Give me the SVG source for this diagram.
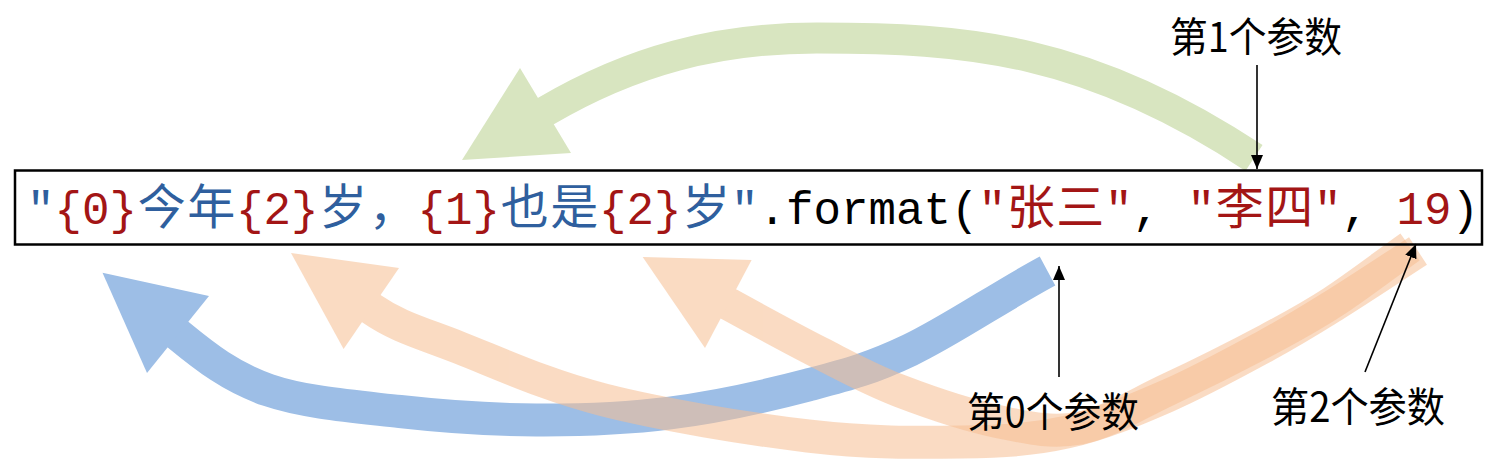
<svg xmlns="http://www.w3.org/2000/svg" width="1512" height="460" viewBox="0 0 1512 460">
<defs>
<style>
.band{fill:none;stroke-linecap:butt;stroke-linejoin:round}
.mono{font-family:"Liberation Mono","DejaVu Sans Mono",monospace;font-size:45.8px}
.cjk{font-family:"Noto Sans CJK SC","Noto Sans",sans-serif;font-size:48px}
.lbl{font-family:"Noto Sans CJK SC","Noto Sans",sans-serif;font-size:41px;fill:#000}
.b{fill:#2F5F9E}.r{fill:#A31515}.k{fill:#000}
.ptr{fill:none;stroke:#000;stroke-width:1.6}
</style>
<marker id="ah" viewBox="0 0 14 12" refX="14" refY="6" markerWidth="14" markerHeight="12" markerUnits="userSpaceOnUse" orient="auto">
<path d="M0,0 L14,6 L0,12 z" fill="#000"/>
</marker>
</defs>
<rect width="1512" height="460" fill="#fff"/>
<g id="connectors">
<g id="arrow-green">
<path class="band" stroke="#D8E5C0" stroke-width="31" d="M1254,158 C1088,48 967,38 817,38 C717,38 632,60.6 546,111 l-3.5,2"/>
<polygon fill="#D8E5C0" points="462,160 520,68 571,153"/>
</g>
<g id="arrow-blue">
<path class="band" stroke="#9DBEE6" stroke-width="33" d="M1047.5,271 C1001.2,295.8 949.9,331 910,350 C870.1,369 848,374.5 808,385 C768,395.5 715.3,407.2 670,413 C624.7,418.8 581,420.25 536,420 C491,419.75 444.7,416.5 400,411.5 C355.3,406.5 304.9,402.75 268,390 C231.1,377.25 205.5,357.2 178.5,335 l-3,-2.5"/>
<polygon fill="#9DBEE6" points="102.5,272.7 209,296 147,373"/>
</g>
<g id="arrow-orange1" opacity="0.55">
<path class="band" stroke="#F6BE91" stroke-width="33" d="M1418,251 C1389.7,269.3 1358.2,290.3 1333,306 C1307.8,321.7 1294.7,330 1267,345 C1239.3,360 1200.3,381.5 1167,396 C1133.7,410.5 1101.3,424.3 1067,432 C1032.7,439.7 1004.2,441.3 961,442 C917.8,442.7 867.5,443 808,436 C748.5,429 662,414.7 604,400 C546,385.3 498.75,363.2 460,348 C421.25,332.8 398,327.1 371.5,308.75 l-3.3,-2.3"/>
<polygon fill="#F6BE91" points="291,253 399,268 343.6,349"/>
</g>
<g id="arrow-orange2" opacity="0.55">
<path class="band" stroke="#F6BE91" stroke-width="33" d="M1410,247 C1384.3,265.3 1356.8,286.5 1333,302 C1309.2,317.5 1294.7,325.3 1267,340 C1239.3,354.7 1198.2,375.3 1167,390 C1135.8,404.7 1107.8,422.7 1080,428 C1052.2,433.3 1030,428.2 1000,422 C970,415.8 930,402.5 900,391 C870,379.5 848.6,367.5 820,353 C791.4,338.5 758.8,320.6 728.5,304 l-3.5,-1.9"/>
<polygon fill="#F6BE91" points="642.7,257 751.6,260 705,348"/>
</g>
<path id="ptr1" class="ptr" d="M1257,65 L1257,169" marker-end="url(#ah)"/>
<path id="ptr0" class="ptr" d="M1059,377 L1059,266" marker-end="url(#ah)"/>
<path id="ptr2" class="ptr" d="M1365,372 L1416,244" marker-end="url(#ah)"/>
</g>
<g id="code">
<rect x="15" y="170.5" width="1467" height="74" fill="none" stroke="#000" stroke-width="2.5"/>
<text y="223.5">
<tspan class="mono b" x="27">"</tspan><tspan class="mono r" x="54.5">{0}</tspan>
<tspan class="cjk b" x="137.75 187.25">今年</tspan>
<tspan class="mono r" x="236">{2}</tspan>
<tspan class="cjk b" x="319.25 368.75">岁，</tspan>
<tspan class="mono r" x="417.5">{1}</tspan>
<tspan class="cjk b" x="500.75 550.25">也是</tspan>
<tspan class="mono r" x="599">{2}</tspan>
<tspan class="cjk b" x="682.25">岁</tspan>
<tspan class="mono b" x="731">"</tspan><tspan class="mono k" x="758.5">.format(</tspan><tspan class="mono r" x="978.5">"</tspan>
<tspan class="cjk r" x="1006.75 1056.25">张三</tspan>
<tspan class="mono r" x="1105">"</tspan><tspan class="mono k" x="1132.5">, </tspan><tspan class="mono r" x="1187.5">"</tspan>
<tspan class="cjk r" x="1215.75 1265.25">李四</tspan>
<tspan class="mono r" x="1314">"</tspan><tspan class="mono k" x="1341.5">, </tspan><tspan class="mono r" x="1396.5">19</tspan><tspan class="mono k" x="1451.5">)</tspan>
</text>
</g>
<g id="label1"><text class="lbl" x="1170" y="51.7" textLength="172" lengthAdjust="spacingAndGlyphs">第1个参数</text></g>
<g id="label0"><text class="lbl" x="967" y="426.7" textLength="172" lengthAdjust="spacingAndGlyphs">第0个参数</text></g>
<g id="label2"><text class="lbl" x="1271" y="421.7" textLength="174" lengthAdjust="spacingAndGlyphs">第2个参数</text></g>
</svg>
